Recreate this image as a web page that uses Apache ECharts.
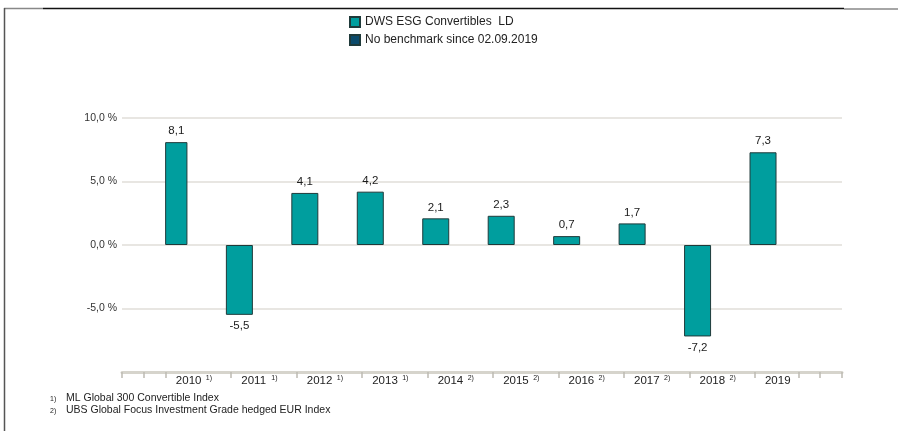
<!DOCTYPE html>
<html>
<head>
<meta charset="utf-8">
<script src="https://cdn.jsdelivr.net/npm/echarts@6/dist/echarts.min.js"></script>
<style>
  html, body { margin: 0; padding: 0; background: #fff; }
  #chart { width: 898px; height: 431px; }
</style>
</head>
<body>
<div id="chart"></div>
<script>
const years = ['2010', '2011', '2012', '2013', '2014', '2015', '2016', '2017', '2018', '2019'];
const notes = ['1)', '1)', '1)', '1)', '2)', '2)', '2)', '2)', '2)', ''];
const fundValues = [8.1, -5.5, 4.1, 4.2, 2.1, 2.3, 0.7, 1.7, -7.2, 7.3];
const benchmarkValues = [null, null, null, null, null, null, null, null, null, null];
const yMin = -10, yMax = 10, yStep = 5;
const footnotes = ['ML Global 300 Convertible Index', 'UBS Global Focus Investment Grade hedged EUR Index'];

// the bottom axis is split into small units, years take three units each
const unitCount = 33;
const units = new Array(unitCount).fill('');
const tickUnits = [0, 1, 2, 5, 8, 11, 14, 17, 20, 23, 26, 29, 31, 32, 33];

const font = '"Liberation Sans", Arial, sans-serif';
const plotLeft = 122, plotRight = 842, plotTop = 118, plotBottom = 372;
const unitW = (plotRight - plotLeft) / unitCount;

const fmt = v => v.toFixed(1).replace('.', ',');

const chart = echarts.init(document.getElementById('chart'));

chart.setOption({
  backgroundColor: '#fff',
  animation: false,
  textStyle: { fontFamily: font },
  legend: {
    orient: 'vertical',
    left: 344,
    top: 11,
    itemWidth: 10,
    itemHeight: 10,
    itemGap: 6,
    icon: 'rect',
    textStyle: { fontSize: 12, color: '#222', fontFamily: font },
    data: ['DWS ESG Convertibles  LD', 'No benchmark since 02.09.2019']
  },
  grid: [
    { left: plotLeft, right: 898 - plotRight, top: plotTop, bottom: 431 - plotBottom },
    { left: plotLeft + 2 * unitW, right: 898 - (plotLeft + 32 * unitW), top: plotTop, bottom: 431 - plotBottom }
  ],
  xAxis: [
    {
      type: 'category',
      gridIndex: 0,
      data: units,
      boundaryGap: true,
      axisLine: { onZero: false, lineStyle: { color: '#d6d4cc', width: 3 } },
      axisTick: {
        show: true,
        length: 6,
        interval: (i) => tickUnits.includes(i),
        lineStyle: { color: '#bdbbb3', width: 1.5 }
      },
      axisLabel: { show: false }
    },
    {
      type: 'category',
      gridIndex: 1,
      data: years,
      axisLine: { show: false, onZero: false },
      axisTick: { show: false },
      axisLabel: {
        margin: 3,
        interval: 0,
        formatter: (v, i) => '{y|' + v + '}{s|' + (notes[i] || ' ') + '}',
        rich: {
          y: { fontSize: 11.5, color: '#222', width: 30, align: 'left', fontFamily: font },
          s: { fontSize: 7, color: '#222', width: 15, align: 'left', verticalAlign: 'top', padding: [0, 0, 5, 0], fontFamily: font }
        }
      }
    }
  ],
  yAxis: [
    {
      type: 'value',
      gridIndex: 0,
      min: yMin,
      max: yMax,
      interval: yStep,
      axisLine: { show: false },
      axisTick: { show: false },
      axisLabel: {
        margin: 5,
        fontSize: 10.5,
        color: '#333',
        formatter: v => (v === yMin ? '' : fmt(v) + ' %')
      },
      splitLine: {
        lineStyle: { color: '#e0ded8', width: 1.5 },
        showMinLine: false
      }
    },
    {
      type: 'value',
      gridIndex: 1,
      min: yMin,
      max: yMax,
      interval: yStep,
      show: false
    }
  ],
  series: [
    {
      name: 'DWS ESG Convertibles  LD',
      type: 'bar',
      xAxisIndex: 1,
      yAxisIndex: 1,
      data: fundValues,
      barWidth: 27,
      barGap: '81%',
      itemStyle: { color: '#009e9e', borderColor: '#1f3a3a', borderWidth: 1 },
      label: {
        show: true,
        fontSize: 11.5,
        color: '#1a1a1a',
        distance: 5,
        position: 'top',
        formatter: p => fmt(p.value)
      },
      labelLayout: p => (fundValues[p.dataIndex] < 0 ? { dy: p.rect.height + 22 } : {})
    },
    {
      name: 'No benchmark since 02.09.2019',
      type: 'bar',
      xAxisIndex: 1,
      yAxisIndex: 1,
      data: benchmarkValues,
      barWidth: 27,
      itemStyle: { color: '#0b4a6b', borderColor: '#1f3a3a', borderWidth: 1 }
    }
  ],
  graphic: [
    { type: 'line', silent: true, shape: { x1: 4, y1: 8.5, x2: 43, y2: 8.5 }, style: { stroke: '#888', lineWidth: 1.5 } },
    { type: 'line', silent: true, shape: { x1: 43, y1: 8.5, x2: 844, y2: 8.5 }, style: { stroke: '#111', lineWidth: 1.5 } },
    { type: 'line', silent: true, shape: { x1: 844, y1: 9, x2: 898, y2: 9 }, style: { stroke: '#888', lineWidth: 1.5 } },
    { type: 'line', silent: true, shape: { x1: 4.5, y1: 8, x2: 4.5, y2: 431 }, style: { stroke: '#555', lineWidth: 1.5 } },
    { type: 'text', left: 50, top: 396, style: { text: '1)', fontSize: 7, fill: '#222', fontFamily: font } },
    { type: 'text', left: 66, top: 393, style: { text: footnotes[0], fontSize: 10.5, fill: '#222', fontFamily: font } },
    { type: 'text', left: 50, top: 408, style: { text: '2)', fontSize: 7, fill: '#222', fontFamily: font } },
    { type: 'text', left: 66, top: 405, style: { text: footnotes[1], fontSize: 10.5, fill: '#222', fontFamily: font } }
  ]
});
</script>
</body>
</html>
